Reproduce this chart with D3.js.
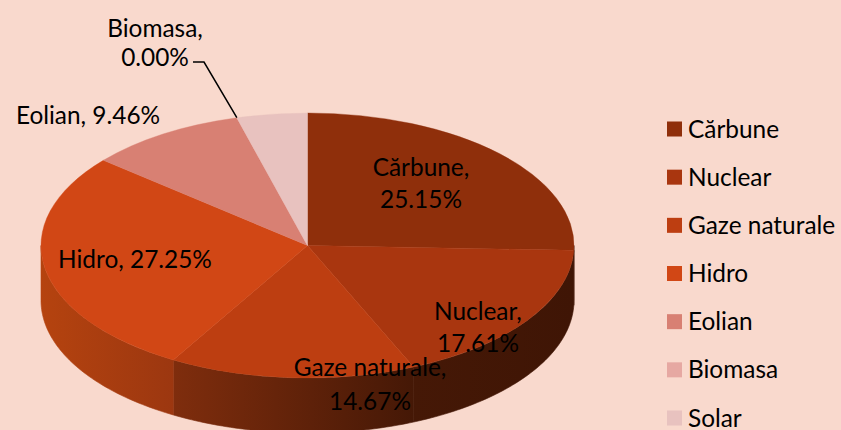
<!DOCTYPE html>
<html><head><meta charset="utf-8">
<script src="https://cdn.jsdelivr.net/npm/d3@7"></script>
<style>html,body{margin:0;padding:0;background:#f9d9cd;overflow:hidden}
text{font-family:Lato,"Open Sans",sans-serif;fill:#000}</style></head>
<body><svg id="c" width="841" height="430"></svg>
<script>
const categories=["Cărbune","Nuclear","Gaze naturale","Hidro","Eolian","Biomasa","Solar"];
const values=[25.15,17.61,14.67,27.25,9.46,0.00,4.2];
const colors=["#8f2f0b","#a9360f","#bd3e11","#d14715","#d88073","#e6a8a2","#e8c2bf"];
const sideStops=[["#3f1505","#3f1505"],["#3f1505","#451806"],["#451806","#7f2d0d"],["#9c3710","#b5430f"],["#b5430f","#b5430f"],["#b5430f","#b5430f"],["#b5430f","#b5430f"]];
const labelLines=[["Cărbune,","25.15%"],["Nuclear,","17.61%"],["Gaze naturale,","14.67%"],["Hidro, 27.25%"],["Eolian, 9.46%"],["Biomasa,","0.00%"]];
const labelPos=[[421,167],[478,311],[370,367],[135,259],[88,115],[155,28]];
const labelStep=[32,32,34,0,0,29];

const cx=307.5,cy=245.5,rx=266.5,ry=132.5,depth=55,fs=24.4;
const svg=d3.select("#c");
const defs=svg.append("defs");
const arcs=d3.pie().sort(null).value(d=>d)(values);
const px=a=>cx+rx*Math.sin(a), py=a=>cy-ry*Math.cos(a);

// side walls
const wall=d3.area().x(a=>px(a)).y0(a=>py(a)).y1(a=>py(a)+depth);
arcs.forEach((d,i)=>{
  const a0=Math.max(d.startAngle,Math.PI/2),a1=Math.min(d.endAngle,Math.PI*1.5);
  if(a1<=a0)return;
  const g=defs.append("linearGradient").attr("id","s"+i).attr("gradientUnits","userSpaceOnUse")
    .attr("x1",px(a0)).attr("x2",px(a1)).attr("y1",0).attr("y2",0);
  g.append("stop").attr("offset",0).attr("stop-color",sideStops[i][0]);
  g.append("stop").attr("offset",1).attr("stop-color",sideStops[i][1]);
  const n=60,pts=d3.range(n+1).map(k=>a0+(a1-a0)*k/n);
  svg.append("path").attr("d",wall(pts)).attr("fill",`url(#s${i})`)
    .attr("stroke",`url(#s${i})`).attr("stroke-width",0.6);
});
// top face
const topFace=svg.append("g").attr("transform",`translate(${cx},${cy}) scale(1,${ry/rx})`);
const arc=d3.arc().innerRadius(0).outerRadius(rx);
topFace.selectAll("path").data(arcs).join("path").attr("d",arc)
  .attr("fill",(d,i)=>colors[i]).attr("stroke",(d,i)=>colors[i]).attr("stroke-width",0.5);

// leader
const eol=arcs[4].endAngle;
svg.append("path").attr("d",d3.line()([[193,62],[204,62],[px(eol),py(eol)]]))
  .attr("fill","none").attr("stroke","#000").attr("stroke-width",1.5);

// labels
labelLines.forEach((ls,i)=>{
  ls.forEach((t,j)=>svg.append("text").attr("x",labelPos[i][0]).attr("y",labelPos[i][1]+j*labelStep[i])
    .attr("dy","0.35em").attr("text-anchor","middle").attr("font-size",fs).text(t));
});
// legend
const ly=d3.scalePoint().domain(categories).range([129,418]);
categories.forEach((c,i)=>{
  svg.append("rect").attr("x",667).attr("y",ly(c)-7.5).attr("width",15).attr("height",15).attr("fill",colors[i]);
  svg.append("text").attr("x",688).attr("y",ly(c)).attr("dy","0.35em").attr("font-size",fs).text(c);
});
</script></body></html>
